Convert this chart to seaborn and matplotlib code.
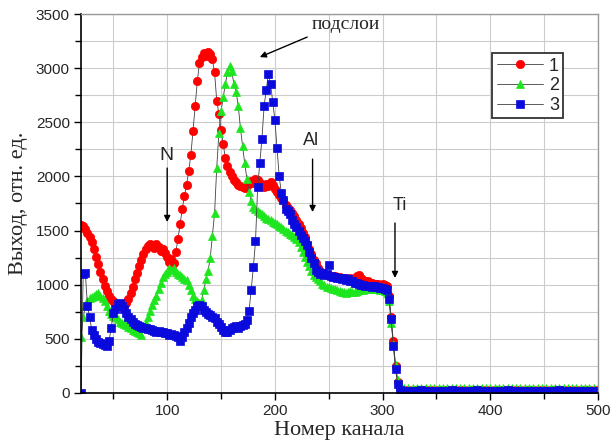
import numpy as np
import pandas as pd
import seaborn as sns
import matplotlib.pyplot as plt
from matplotlib.ticker import MultipleLocator

# channel numbers: step 2 up to the Ti edge, step 4 on the flat tail
head_channels = np.arange(20, 321, 2)
tail_channels = np.arange(324, 501, 4)
channels = np.concatenate([head_channels, tail_channels])

head_1 = [1550, 1540, 1510, 1480, 1440, 1390, 1330, 1260, 1190, 1120,
          1050, 990, 940, 900, 870, 850, 830, 815, 800, 795,
          800, 830, 870, 920, 980, 1050, 1110, 1170, 1230, 1280,
          1330, 1360, 1380, 1370, 1340, 1380, 1350, 1310, 1330, 1290,
          1260, 1210, 1240, 1200, 1300, 1420, 1560, 1700, 1820, 1920,
          2050, 2200, 2420, 2650, 2880, 3050, 3100, 3140, 3110, 3150,
          3130, 3080, 2960, 2700, 2580, 2430, 2300, 2170, 2100, 2040,
          2000, 1970, 1950, 1920, 1910, 1900, 1890, 1910, 1940, 1960,
          1940, 1980, 1970, 1940, 1920, 1900, 1930, 1910, 1950, 1920,
          1880, 1860, 1830, 1800, 1780, 1740, 1710, 1690, 1660, 1630,
          1600, 1560, 1520, 1480, 1440, 1380, 1330, 1280, 1230, 1200,
          1150, 1130, 1110, 1100, 1090, 1090, 1080, 1070, 1080, 1070,
          1070, 1060, 1060, 1050, 1050, 1060, 1050, 1060, 1080, 1090,
          1060, 1040, 1030, 1030, 1020, 1020, 1010, 1010, 1010, 1000,
          1010, 1000, 990, 900, 700, 480, 250, 100, 40, 30,
          28]
head_2 = [520, 700, 800, 850, 880, 890, 900, 910, 920, 900,
          880, 850, 800, 760, 730, 710, 700, 680, 660, 650,
          640, 630, 610, 600, 580, 570, 560, 550, 540, 600,
          650, 700, 760, 810, 860, 900, 960, 1020, 1070, 1100,
          1120, 1150, 1140, 1150, 1120, 1100, 1090, 1070, 1050, 1040,
          1000, 950, 900, 870, 850, 830, 860, 950, 1050, 1130,
          1250, 1450, 1660, 2080, 2400, 2600, 2730, 2850, 2960, 3020,
          2970, 2850, 2780, 2650, 2450, 2280, 2120, 1980, 1860, 1770,
          1720, 1700, 1680, 1660, 1650, 1630, 1620, 1610, 1600, 1580,
          1570, 1560, 1540, 1530, 1510, 1500, 1490, 1470, 1460, 1440,
          1420, 1390, 1350, 1300, 1260, 1210, 1170, 1130, 1090, 1070,
          1050, 1030, 1010, 1000, 980, 980, 970, 960, 960, 950,
          940, 930, 930, 920, 930, 940, 930, 930, 940, 950,
          960, 950, 960, 960, 970, 960, 970, 960, 960, 950,
          950, 940, 920, 850, 650, 450, 260, 120, 60, 48,
          45]
head_3 = [0, 1100, 1110, 800, 700, 580, 540, 500, 470, 460,
          450, 440, 430, 480, 600, 740, 780, 820, 830, 800,
          780, 740, 700, 680, 660, 640, 630, 620, 610, 600,
          600, 590, 590, 580, 570, 560, 570, 560, 560, 550,
          550, 540, 545, 540, 530, 520, 480, 520, 560, 600,
          650, 700, 740, 770, 800, 810, 800, 770, 750, 730,
          720, 700, 690, 660, 640, 610, 580, 560, 560, 580,
          600, 610, 620, 600, 620, 630, 640, 670, 760, 950,
          1160, 1400, 1900, 2120, 2350, 2650, 2800, 2950, 2850, 2690,
          2520, 2260, 2000, 1850, 1780, 1700, 1680, 1650, 1600, 1560,
          1535, 1500, 1460, 1430, 1400, 1370, 1300, 1250, 1200, 1140,
          1120, 1100, 1110, 1090, 1100, 1180, 1080, 1070, 1070, 1060,
          1060, 1050, 1060, 1040, 1050, 1030, 1030, 1020, 1020, 1010,
          1000, 1000, 990, 990, 990, 980, 990, 980, 980, 970,
          970, 960, 950, 870, 680, 430, 220, 80, 30, 22,
          20]

# flat tail after the Ti edge (channels 324..500)
tail_1 = [28, 26, 30, 27, 25, 29, 26, 28, 27, 25, 26, 28, 27, 26, 25,
          27, 26, 28, 25, 26, 27, 25, 26, 27, 28, 26, 25, 27, 26, 25,
          26, 27, 25, 26, 28, 26, 25, 27, 26, 25, 26, 27, 25, 26, 27]
tail_2 = [45, 44, 46, 43, 45, 47, 44, 42, 45, 46, 44, 43, 45, 47, 44,
          46, 43, 45, 44, 46, 45, 43, 44, 46, 45, 44, 43, 46, 45, 44,
          43, 45, 46, 44, 45, 43, 44, 46, 45, 44, 43, 45, 44, 46, 45]
tail_3 = [22, 20, 21, 23, 20, 22, 21, 20, 22, 21, 23, 20, 21, 22, 20,
          21, 23, 22, 20, 21, 22, 20, 21, 23, 22, 20, 21, 22, 21, 20,
          22, 21, 20, 22, 21, 23, 20, 21, 22, 20, 21, 22, 20, 21, 22]

series = {
    "1": head_1 + tail_1,
    "2": head_2 + tail_2,
    "3": head_3 + tail_3,
}
styles = {
    "1": dict(marker="o", color="#ff0000", ms=6.0),
    "2": dict(marker="^", color="#1ee61e", ms=6.3),
    "3": dict(marker="s", color="#0a0adc", ms=5.2),
}

sns.set_theme(style="white")
plt.rcParams["font.family"] = ["Liberation Sans", "DejaVu Sans"]

fig = plt.figure(figsize=(6.11, 4.45), dpi=100)
ax = fig.add_axes([0.1326, 0.1169, 0.8461, 0.8516])

for name, vals in series.items():
    st = styles[name]
    sns.lineplot(x=channels, y=vals, ax=ax, color="#404040", lw=0.6,
                 marker=st["marker"], markersize=st["ms"],
                 markerfacecolor=st["color"], markeredgecolor=st["color"],
                 markeredgewidth=0.5, label=name, sort=False)

ax.set_xlim(20, 500)
ax.set_ylim(0, 3500)
ax.xaxis.set_major_locator(MultipleLocator(100))
ax.xaxis.set_minor_locator(MultipleLocator(50))
ax.yaxis.set_major_locator(MultipleLocator(500))
ax.yaxis.set_minor_locator(MultipleLocator(250))
ax.grid(which="both", color="#cccccc", lw=0.8)
ax.set_axisbelow(True)

for side in ["left", "bottom"]:
    ax.spines[side].set_color("black")
    ax.spines[side].set_linewidth(1.2)
for side in ["top", "right"]:
    ax.spines[side].set_color("#999999")
    ax.spines[side].set_linewidth(1.0)

ax.tick_params(which="both", direction="out", bottom=True, left=True,
               top=False, right=False, color="black", width=1)
ax.tick_params(which="major", length=5, labelsize=11, pad=3)
ax.tick_params(which="minor", length=4)

ax.set_xlabel("Номер канала", family=["Liberation Serif", "DejaVu Serif"],
              fontsize=16, labelpad=2)
ax.set_ylabel("Выход, отн. ед.", family=["Liberation Serif", "DejaVu Serif"],
              fontsize=16, labelpad=6)

arrow = dict(arrowstyle="-|>", color="black", lw=1.0, mutation_scale=9,
             shrinkA=0, shrinkB=0)
ax.annotate("", xy=(100, 1579), xytext=(100, 2077), arrowprops=arrow)
ax.text(99, 2197, "N", fontsize=14, ha="center", va="center")
ax.annotate("", xy=(235, 1671), xytext=(235, 2160), arrowprops=arrow)
ax.text(233.5, 2336, "Al", fontsize=13, ha="center", va="center")
ax.annotate("", xy=(311.5, 1062), xytext=(311.5, 1570), arrowprops=arrow)
ax.text(316, 1736, "Ti", fontsize=13, ha="center", va="center")
ax.annotate("", xy=(186, 3102), xytext=(230, 3287), arrowprops=arrow)
ax.text(234, 3400, "подслои", fontsize=14, ha="left", va="center",
        family=["Liberation Serif", "DejaVu Serif"])

leg = ax.legend(loc="upper left", bbox_to_anchor=(0.795, 0.897),
                fontsize=13, handlelength=2.6, handletextpad=0.3,
                borderpad=0.25, labelspacing=0.15, fancybox=False,
                framealpha=1, borderaxespad=0)
leg.get_frame().set_edgecolor("#333333")
leg.get_frame().set_linewidth(1.3)
for line in leg.get_lines():
    line.set_color("#404040")

fig.savefig("out.png", dpi=100)
